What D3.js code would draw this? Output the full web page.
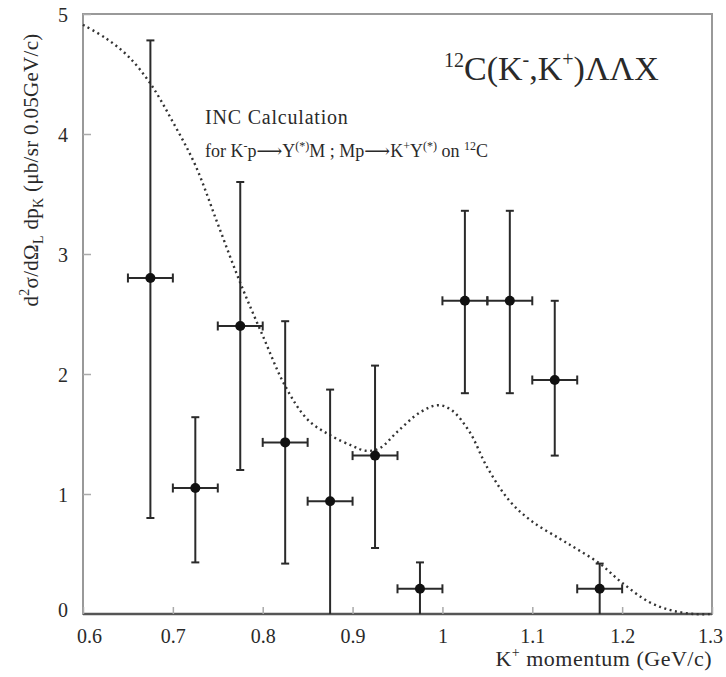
<!DOCTYPE html>
<html><head><meta charset="utf-8">
<script src="https://cdn.jsdelivr.net/npm/d3@7"></script>
<style>body{margin:0;background:#fff}svg{display:block}svg text{font-family:"Liberation Serif","DejaVu Serif",serif !important;fill:#2a2a2a}</style>
</head><body><svg id="c" width="726" height="677"></svg>
<script>
const xVals   = [0.675,0.725,0.775,0.825,0.875,0.925,0.975,1.025,1.075,1.125,1.175];
const yVals   = [2.80, 1.05, 2.40, 1.43, 0.94, 1.32, 0.21, 2.61, 2.61, 1.95, 0.21];
const yLow    = [0.80, 0.43, 1.20, 0.42, 0.00, 0.55, 0.00, 1.84, 1.84, 1.32, 0.00];
const yHigh   = [4.78, 1.64, 3.60, 2.44, 1.87, 2.07, 0.43, 3.36, 3.36, 2.61, 0.42];
const xHalf   = 0.025;
const curveX  = [0.60,0.625,0.65,0.675,0.70,0.725,0.75,0.775,0.80,0.825,0.85,0.875,0.90,0.915,0.93,0.95,0.975,0.995,1.01,1.03,1.05,1.075,1.10,1.13,1.15,1.175,1.20,1.23,1.255,1.28,1.30];
const curveY  = [4.91,4.80,4.65,4.42,4.10,3.74,3.25,2.76,2.32,1.90,1.62,1.49,1.40,1.36,1.38,1.52,1.68,1.74,1.70,1.52,1.22,0.94,0.77,0.63,0.54,0.42,0.26,0.10,0.03,0.00,0.00];
const xTicks  = [0.6,0.7,0.8,0.9,1.0,1.1,1.2,1.3];
const xTickLabels = ["0.6","0.7","0.8","0.9","1","1.1","1.2","1.3"];
const yTicks  = [1,2,3,4,5];

const svg = d3.select("#c");
const x = d3.scaleLinear().domain([0.6,1.3]).range([83,712]);
const y = d3.scaleLinear().domain([0,5]).range([614,14]);
const ink = "#2a2a2a";

// frame
svg.append("rect").attr("x",x(0.6)).attr("y",y(5)).attr("width",x(1.3)-x(0.6)).attr("height",y(0)-y(5))
  .attr("fill","none").attr("stroke","#999").attr("stroke-width",2);
svg.append("line").attr("x1",x(0.6)).attr("x2",x(1.3)).attr("y1",y(0)).attr("y2",y(0)).attr("stroke","#555").attr("stroke-width",2.5);

// axes via d3
const xAxis = svg.append("g").attr("transform",`translate(0,${y(0)})`)
  .call(d3.axisTop(x).tickValues(xTicks).tickSize(7).tickFormat(""));
xAxis.select(".domain").remove();
xAxis.selectAll("line").attr("stroke","#aaa").attr("stroke-width",1.5);
const xLab = svg.append("g").attr("transform",`translate(0,${y(0)})`)
  .call(d3.axisBottom(x).tickValues(xTicks).tickSize(0).tickPadding(11).tickFormat((d,i)=>xTickLabels[i]));
xLab.select(".domain").remove();
xLab.selectAll("text").attr("font-size",20).attr("fill","#444")
  .attr("dy","0.9em").attr("dx",(d,i)=> i===0?"6":(i===7?"-2":"0"));

const yAxis = svg.append("g").attr("transform",`translate(${x(0.6)},0)`)
  .call(d3.axisRight(y).tickValues(yTicks).tickSize(8).tickFormat(""));
yAxis.select(".domain").remove();
yAxis.selectAll("line").attr("stroke","#aaa").attr("stroke-width",1.5);
const yLab = svg.append("g").attr("transform",`translate(${x(0.6)},0)`)
  .call(d3.axisLeft(y).tickValues([0,...yTicks]).tickSize(0).tickPadding(15).tickFormat(d3.format("d")));
yLab.select(".domain").remove();
yLab.selectAll("text").attr("font-size",20).attr("fill","#444")
  .attr("dy",d=> d===0?"0.1em":"0.35em");

// curve
const line = d3.line().x(d=>x(d[0])).y(d=>y(d[1])).curve(d3.curveCatmullRom.alpha(0.5));
svg.append("path").datum(curveX.map((v,i)=>[v,curveY[i]])).attr("d",line)
  .attr("fill","none").attr("stroke","#333").attr("stroke-width",2.4).attr("stroke-dasharray","2,3.5");

// data
const data = xVals.map((v,i)=>({x:v,y:yVals[i],lo:yLow[i],hi:yHigh[i]}));
const g = svg.append("g").attr("stroke",ink).attr("stroke-width",2);
const cw = 4, ch = 7;
data.forEach(d=>{
  g.append("line").attr("x1",x(d.x)).attr("x2",x(d.x)).attr("y1",y(d.lo)).attr("y2",y(d.hi));
  g.append("line").attr("x1",x(d.x-xHalf)).attr("x2",x(d.x+xHalf)).attr("y1",y(d.y)).attr("y2",y(d.y));
  g.append("line").attr("x1",x(d.x)-cw).attr("x2",x(d.x)+cw).attr("y1",y(d.hi)).attr("y2",y(d.hi));
  if (d.lo>0) g.append("line").attr("x1",x(d.x)-cw).attr("x2",x(d.x)+cw).attr("y1",y(d.lo)).attr("y2",y(d.lo));
  g.append("line").attr("x1",x(d.x-xHalf)).attr("x2",x(d.x-xHalf)).attr("y1",y(d.y)-ch/2-1).attr("y2",y(d.y)+ch/2+1);
  g.append("line").attr("x1",x(d.x+xHalf)).attr("x2",x(d.x+xHalf)).attr("y1",y(d.y)-ch/2-1).attr("y2",y(d.y)+ch/2+1);
});
svg.append("g").selectAll("circle").data(data).join("circle")
  .attr("cx",d=>x(d.x)).attr("cy",d=>y(d.y)).attr("r",5).attr("fill","#111");

// title
const t = svg.append("text").attr("x",444).attr("y",80).attr("font-size",34);
t.append("tspan").attr("font-size",20).attr("dy","-13").text("12");
t.append("tspan").attr("dy","13").text("C(K");
t.append("tspan").attr("font-size",20).attr("dy","-14").text("-");
t.append("tspan").attr("dy","14").text(",K");
t.append("tspan").attr("font-size",20).attr("dy","-14").text("+");
t.append("tspan").attr("dy","14").text(")ΛΛX");

// annotation
svg.append("text").attr("x",205).attr("y",124).attr("font-size",20).attr("letter-spacing",0.8).text("INC Calculation");
const a = svg.append("text").attr("x",205).attr("y",157).attr("font-size",18);
a.append("tspan").text("for K");
a.append("tspan").attr("font-size",12).attr("dy","-7").text("-");
a.append("tspan").attr("dy","7").text("p⟶Y");
a.append("tspan").attr("font-size",12).attr("dy","-7").text("(*)");
a.append("tspan").attr("dy","7").text("M ; Mp⟶K");
a.append("tspan").attr("font-size",12).attr("dy","-7").text("+");
a.append("tspan").attr("dy","7").text("Y");
a.append("tspan").attr("font-size",12).attr("dy","-7").text("(*)");
a.append("tspan").attr("dy","7").text(" on ");
a.append("tspan").attr("font-size",12).attr("dy","-7").text("12");
a.append("tspan").attr("dy","7").text("C");

// x label
const xl = svg.append("text").attr("x",712).attr("y",666).attr("text-anchor","end").attr("font-size",22).attr("letter-spacing",0.5);
xl.append("tspan").text("K");
xl.append("tspan").attr("font-size",14).attr("dy","-9").text("+");
xl.append("tspan").attr("dy","9").text(" momentum (GeV/c)");

// y label
const yl = svg.append("text").attr("transform","translate(38,170) rotate(-90)").attr("text-anchor","middle").attr("font-size",21).attr("letter-spacing",0.3);
yl.append("tspan").text("d");
yl.append("tspan").attr("font-size",14).attr("dy","-9").text("2");
yl.append("tspan").attr("dy","9").text("σ/dΩ");
yl.append("tspan").attr("font-size",14).attr("dy","5").text("L");
yl.append("tspan").attr("dy","-5").text(" dp");
yl.append("tspan").attr("font-size",14).attr("dy","5").text("K");
yl.append("tspan").attr("dy","-5").text(" (μb/sr 0.05GeV/c)");
</script></body></html>
